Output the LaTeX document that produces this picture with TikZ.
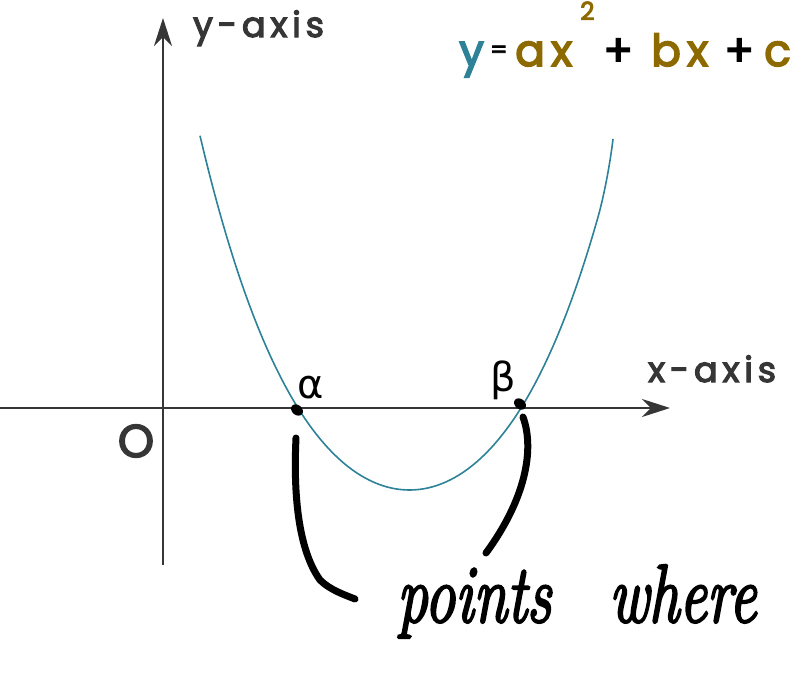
\documentclass[tikz,border=0pt]{standalone}
\usepackage{fontspec}
\setmainfont{Poppins}
\newfontfamily\labelfont{Poppins}[FakeBold=3.5, LetterSpace=14]
\newfontfamily\eqfont{Poppins}[FakeBold=3.5, LetterSpace=14]
\newfontfamily\greekfont{DejaVu Sans}
\newfontfamily\handfont{Latin Modern Roman}[FakeBold=3]
\usetikzlibrary{arrows.meta,shapes.geometric}
\definecolor{axisgray}{HTML}{363636}
\definecolor{curveteal}{HTML}{2E8297}
\definecolor{coefgold}{HTML}{8C6A00}
\begin{document}
\begin{tikzpicture}[x=1pt,y=-1pt,
  axisline/.style={draw=axisgray, line width=1.6pt, -{Stealth[length=28pt,width=18pt,inset=9pt]}},
  curvestyle/.style={draw=curveteal, line width=1.6pt},
  axislabel/.style={text=axisgray, font=\labelfont\fontsize{35}{37}\selectfont, anchor=base west, inner sep=0pt},
  greeklabel/.style={text=black, font=\greekfont\fontsize{40}{42}\selectfont, anchor=base west, inner sep=0pt},
  eqpart/.style={font=\eqfont\fontsize{44}{46}\selectfont, anchor=base west, inner sep=0pt},
  rootdot/.style={ellipse, fill=black, minimum width=13pt, minimum height=10pt, inner sep=0pt, rotate=-40},
  handstroke/.style={draw=black, line width=7pt, line cap=round, line join=round},
  handtext/.style={font=\handfont\itshape\fontsize{61}{64}\selectfont, anchor=base west, inner sep=0pt, yscale=1.35, transform shape}
]
\useasboundingbox (0,0) rectangle (796,680);
% axes
\coordinate (xstart) at (0,408);
\coordinate (xend) at (670,408);
\coordinate (ystart) at (163,565);
\coordinate (yend) at (163,18);
\draw[axisline] (xstart) -- (xend);
\draw[axisline] (ystart) -- (yend);
% labels
\node[axislabel] (ylab) at (193,37) {y-axis};
\node[axislabel] (xlab) at (648,382) {x-axis};
\node[text=axisgray, font=\labelfont\fontsize{46}{48}\selectfont, inner sep=0pt] (origin) at (136,441) {O};
% parabola
\coordinate (ptop) at (613,139);
\draw[curvestyle] plot[domain=-2.095:1.88, samples=90, variable=\v]
  ({409.5+100*\v}, {490-60.13*\v*\v-4.69*\v*\v*\v*\v})
  .. controls (603.5,198) and (610,165) .. (ptop);
% root dots
\node[rootdot] (da) at (297,410) {};
\node[rootdot] (db) at (520,404) {};
\node[greeklabel] (alab) at (297,398) {α};
\node[greeklabel] (blab) at (490,391) {β};
% equation
\node[eqpart, text=curveteal] (eqy) at (459,66) {y};
\node[eqpart, text=black, font=\eqfont\fontsize{24}{26}\selectfont] (eqeq) at (490,58) {=};
\node[eqpart, text=coefgold] (eqax) at (515,66) {ax};
\node[eqpart, text=coefgold, font=\eqfont\fontsize{25}{27}\selectfont] (eqsq) at (580,20) {2};
\node[eqpart, text=black] (eqp1) at (603,66) {+};
\node[eqpart, text=coefgold] (eqbx) at (651,66) {bx};
\node[eqpart, text=black] (eqp2) at (724,66) {+};
\node[eqpart, text=coefgold] (eqc) at (764,66) {c};
% handwriting
\node[handtext] (hand) at (397,622) {points\hspace{58pt}where};
\coordinate (la1) at (296,438);
\coordinate (la3) at (320,580);
\coordinate (la4) at (355,599);
\draw[handstroke] (la1) .. controls (294,480) and (295,545) .. (la3) .. controls (330,590) and (345,595) .. (la4);
\coordinate (lb1) at (523,417);
\coordinate (lb4) at (486,553);
\draw[handstroke] (lb1) .. controls (535,450) and (525,500) .. (lb4);
\end{tikzpicture}
\end{document}
